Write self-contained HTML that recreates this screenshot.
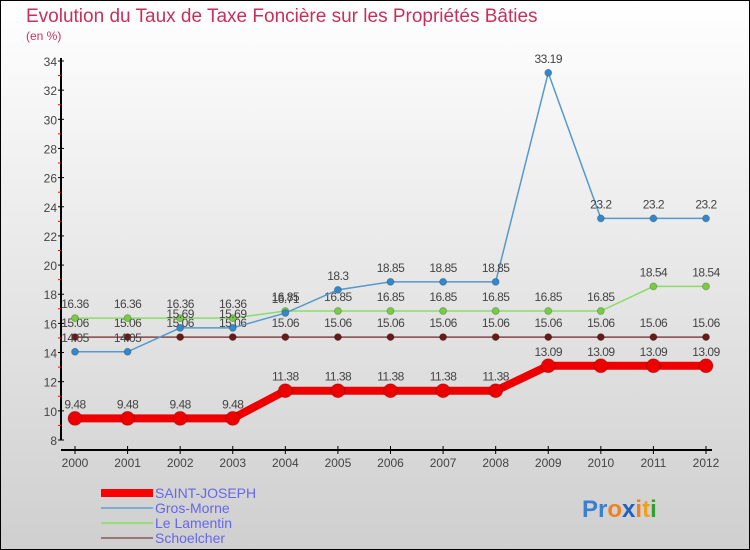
<!DOCTYPE html>
<html><head><meta charset="utf-8"><style>
body{margin:0;width:750px;height:550px;overflow:hidden}
#c{position:absolute;left:0;top:0;width:748px;height:548px;border:1px solid #000;background:linear-gradient(#fff,#cfcfcf)}
svg text{font-family:"Liberation Sans",sans-serif}
</style></head><body>
<div id="c">
<svg id="s" width="750" height="550" style="position:absolute;left:-1px;top:-1px">
<text x="26" y="22" font-size="19" fill="#c8305a">Evolution du Taux de Taxe Foncière sur les Propriétés Bâties</text>
<text x="26" y="40" font-size="12" fill="#c8305a">(en %)</text>
<g id="g"></g>
<g>
<rect x="101" y="489" width="52" height="8" fill="#f00"/>
<text x="155" y="498" font-size="14" fill="#6666ee">SAINT-JOSEPH</text>
<line x1="101" y1="508" x2="153" y2="508" stroke="#7aaed0" stroke-width="2"/>
<text x="155" y="513" font-size="14" fill="#6666ee">Gros-Morne</text>
<line x1="101" y1="523" x2="153" y2="523" stroke="#99dd77" stroke-width="2"/>
<text x="155" y="528" font-size="14" fill="#6666ee">Le Lamentin</text>
<line x1="101" y1="538" x2="153" y2="538" stroke="#997777" stroke-width="2"/>
<text x="155" y="543" font-size="14" fill="#6666ee">Schoelcher</text>
</g>
<text x="582" y="517" font-size="24" font-weight="bold"><tspan fill="#3a7fd0">Pr</tspan><tspan fill="#f08020">o</tspan><tspan fill="#2060c0">x</tspan><tspan fill="#f08020">i</tspan><tspan fill="#f0a020">t</tspan><tspan fill="#30a030">i</tspan></text>
</svg></div>
<script>
const years=[2000,2001,2002,2003,2004,2005,2006,2007,2008,2009,2010,2011,2012];
const yTicks=[8,10,12,14,16,18,20,22,24,26,28,30,32,34];
const saintJoseph=[9.48,9.48,9.48,9.48,11.38,11.38,11.38,11.38,11.38,13.09,13.09,13.09,13.09];
const grosMorne=[14.05,14.05,15.69,15.69,16.71,18.3,18.85,18.85,18.85,33.19,23.2,23.2,23.2];
const leLamentin=[16.36,16.36,16.36,16.36,16.85,16.85,16.85,16.85,16.85,16.85,16.85,18.54,18.54];
const schoelcher=[15.06,15.06,15.06,15.06,15.06,15.06,15.06,15.06,15.06,15.06,15.06,15.06,15.06];
const NS="http://www.w3.org/2000/svg",g=document.getElementById('g');
const X=i=>75+i*(706-75)/(years.length-1);
const Y=v=>440-(v-8)*(440-61)/26;
function mk(t,a,p){const e=document.createElementNS(NS,t);for(const k in a)e.setAttribute(k,a[k]);(p||g).appendChild(e);return e;}
let ax=mk('line',{x1:61,y1:58,x2:61,y2:440,stroke:'#000','stroke-width':2});


let xa=mk('line',{x1:61,y1:450,x2:712,y2:450,stroke:'#000','stroke-width':2});


yTicks.forEach(v=>{
 mk('line',{x1:58,y1:Y(v),x2:64,y2:Y(v),stroke:'#000'});
 if(v<34)mk('line',{x1:58,y1:Y(v+1),x2:61,y2:Y(v+1),stroke:'#f00'});
 let t=mk('text',{x:57,y:Y(v)+5,'font-size':12,fill:'#444','text-anchor':'end'});t.textContent=v;
 
 
});
years.forEach((yr,i)=>{
 mk('line',{x1:X(i),y1:446,x2:X(i),y2:454,stroke:'#000'});
 let t=mk('text',{x:X(i),y:467,'font-size':12,fill:'#444','text-anchor':'middle'});t.textContent=yr;
 
 
});
function series(d,col,w,r,name,dot){
 let l=mk('polyline',{points:d.map((v,i)=>X(i)+','+Y(v)).join(' '),fill:'none',stroke:col,'stroke-width':w});
 
 
 d.forEach((v,i)=>{
  let c=mk('circle',{cx:X(i),cy:Y(v),r:r,fill:dot,stroke:'rgba(0,0,0,0.2)'});
  
  
  let t=mk('text',{x:X(i),y:Y(v)-10,'font-size':12,fill:'#444','text-anchor':'middle','letter-spacing':'-0.5'});t.textContent=v;
  
  
 });
}
series(schoelcher,'#884444',1.5,3.5,'schoelcher','#661a1a');
series(leLamentin,'#88dd66',1.5,3.5,'le-lamentin','#77cc44');
series(grosMorne,'#5599cc',1.5,3.5,'gros-morne','#3388cc');
series(saintJoseph,'#ee0000',8,7,'saint-joseph','#ee0000');
</script>
</body></html>
